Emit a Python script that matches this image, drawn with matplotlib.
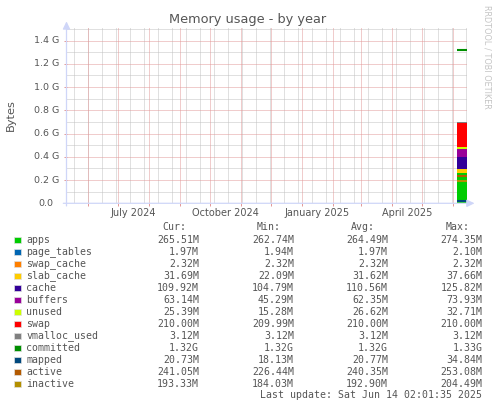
import matplotlib
matplotlib.use("Agg")
import matplotlib.pyplot as plt
import matplotlib.dates as mdates
import matplotlib.transforms as mtransforms
from matplotlib.patches import Rectangle
from datetime import datetime, timedelta

# ---------------- data ----------------
area_names = ["apps", "page_tables", "swap_cache", "slab_cache", "cache",
              "buffers", "unused", "swap", "vmalloc_used"]
area_mb = [265.51, 1.97, 2.32, 31.69, 109.92, 63.14, 25.39, 210.00, 3.12]
area_colors = ["#00CC00", "#0066B3", "#FF8000", "#FFCC00", "#330099",
               "#990099", "#CCFF00", "#FF0000", "#808080"]

line_names = ["committed", "mapped", "active", "inactive"]
line_mb = [1351.68, 20.73, 241.05, 193.33]
line_colors = ["#008F00", "#00487D", "#B35A00", "#B38F00"]

cur_txt = ["265.51M", "1.97M", "2.32M", "31.69M", "109.92M", "63.14M", "25.39M",
           "210.00M", "3.12M", "1.32G", "20.73M", "241.05M", "193.33M"]
min_txt = ["262.74M", "1.94M", "2.32M", "22.09M", "104.79M", "45.29M", "15.28M",
           "209.99M", "3.12M", "1.32G", "18.13M", "226.44M", "184.03M"]
avg_txt = ["264.49M", "1.97M", "2.32M", "31.62M", "110.56M", "62.35M", "26.62M",
           "210.00M", "3.12M", "1.32G", "20.77M", "240.35M", "192.90M"]
max_txt = ["274.35M", "2.10M", "2.32M", "37.66M", "125.82M", "73.93M", "32.71M",
           "210.00M", "3.12M", "1.33G", "34.84M", "253.08M", "204.49M"]

y_ticks = [0.0, 0.2, 0.4, 0.6, 0.8, 1.0, 1.2, 1.4]
y_tick_labels = ["0.0", "0.2 G", "0.4 G", "0.6 G", "0.8 G", "1.0 G", "1.2 G", "1.4 G"]
x_label_dates = [datetime(2024, 7, 16), datetime(2024, 10, 16),
                 datetime(2025, 1, 16), datetime(2025, 4, 16)]
x_labels = ["July 2024", "October 2024", "January 2025", "April 2025"]

end_time = datetime(2025, 6, 14, 2, 1, 35)
data_start = datetime(2025, 6, 4, 7, 0, 0)
span_days = 400
title = "Memory usage - by year"
last_update = "Last update: Sat Jun 14 02:01:35 2025"

# ---------------- layout helpers ----------------
W, H = 497, 408
def fx(x):
    return x / W
def fy(y):
    return 1 - y / H

FONT = "#555555"
MGRID = "#e39a9a"
GRID = "#c2c2c2"
AXIS = "#CFD6F8"

fig = plt.figure(figsize=(W / 100, H / 100), dpi=100)
fig.patch.set_facecolor("white")

left_px, right_px, top_px, bot_px = 66.5, 466.5, 26.7, 203.3
ax = fig.add_axes([fx(left_px), fy(bot_px), (right_px - left_px) / W, (bot_px - top_px) / H])
ax.set_facecolor("white")
for s in ax.spines.values():
    s.set_visible(False)

start_time = end_time - timedelta(days=span_days)
x0, x1 = mdates.date2num(start_time), mdates.date2num(end_time)
ax.set_xlim(x0, x1)
ax.set_ylim(0, 1.52)

# grid
dot = (0, (1, 1))
minor_v = []
d = datetime(2024, 5, 18)
while d < end_time:
    minor_v.append(mdates.date2num(d))
    d += timedelta(days=14)
major_v = []
for yy, mm in [(2024, m) for m in range(6, 13)] + [(2025, m) for m in range(1, 7)]:
    major_v.append(mdates.date2num(datetime(yy, mm, 1)))
minor_h = [0.1, 0.3, 0.5, 0.7, 0.9, 1.1, 1.3, 1.5]
major_h = y_ticks[1:]
for coll in [
    ax.vlines(minor_v, 0, 1.52, colors=GRID, linestyles=dot, linewidth=0.72, zorder=0.5),
    ax.hlines(minor_h, x0, x1, colors=GRID, linestyles=dot, linewidth=0.72, zorder=0.5),
    ax.vlines(major_v, 0, 1.52, colors=MGRID, linestyles=dot, linewidth=0.72, zorder=0.6),
    ax.hlines(major_h, x0, x1, colors=MGRID, linestyles=dot, linewidth=0.72, zorder=0.6),
]:
    coll.set_snap(True)

# data
t = mdates.date2num([data_start, end_time])
vals = [[v / 1024.0, v / 1024.0] for v in area_mb]
ax.stackplot(t, vals, colors=area_colors, linewidth=0, zorder=2)
for v, c in zip(line_mb, line_colors):
    ax.plot(t, [v / 1024.0, v / 1024.0], color=c, lw=1.5, solid_capstyle="butt", zorder=3)

# ticks
ax.set_xticks(major_v)
ax.tick_params(axis="x", which="major", length=2.0, width=0.72, color=MGRID,
               labelbottom=False, direction="out")
ax.set_xticks(mdates.date2num(x_label_dates), minor=True)
ax.set_xticklabels(x_labels, minor=True)
ax.tick_params(axis="x", which="minor", length=0, pad=3.2, labelsize=7,
               labelcolor=FONT)

ax.set_yticks(y_ticks[1:])
ax.tick_params(axis="y", which="major", length=2.2, width=0.72, color=MGRID,
               labelleft=False, direction="out")
ytrans = mtransforms.blended_transform_factory(ax.transAxes, ax.transData)
for v, lab in zip(y_ticks, y_tick_labels):
    right_edge = 59.5 if v > 0 else 53.5
    ax.text((right_edge - left_px) / (right_px - left_px), v, lab, transform=ytrans,
            ha="right", va="center", fontsize=6.8, color=FONT, clip_on=False)

# axes with arrows
ax.annotate("", xy=(1.02, 0), xytext=(-0.008, 0), xycoords="axes fraction",
            arrowprops=dict(arrowstyle="-|>,head_length=0.45,head_width=0.22",
                            color=AXIS, lw=0.9, shrinkA=0, shrinkB=0,
                            mutation_scale=10), zorder=4, annotation_clip=False)
ax.annotate("", xy=(0, 1.03), xytext=(0, -0.015), xycoords="axes fraction",
            arrowprops=dict(arrowstyle="-|>,head_length=0.45,head_width=0.22",
                            color=AXIS, lw=0.9, shrinkA=0, shrinkB=0,
                            mutation_scale=10), zorder=4, annotation_clip=False)

# texts
fig.text(fx(248), fy(19.5), title, ha="center", va="center", fontsize=9.3, color=FONT)
fig.text(fx(10.7), fy(115), "Bytes", ha="center", va="center", rotation=90,
         fontsize=8.2, color=FONT)
fig.text(fx(486.7), fy(57), "RRDTOOL / TOBI OETIKER", ha="center", va="center",
         rotation=270, fontsize=5.9, color="#c4c4c4")

# legend
mono = "DejaVu Sans Mono"
lfs = 7.1
hdr_y = 227.5
for txt, xr in zip(["Cur:", "Min:", "Avg:", "Max:"], [186, 281, 375.3, 470]):
    fig.text(fx(xr), fy(hdr_y), txt, ha="right", va="center", fontsize=lfs,
             family=mono, color=FONT)
legend_names = area_names + line_names
legend_colors = area_colors + line_colors
for i, (nm, col) in enumerate(zip(legend_names, legend_colors)):
    yc = 240 + 12 * i
    fig.add_artist(Rectangle((fx(14), fy(yc + 3.3)), 6.8 / W, 6.6 / H,
                             transform=fig.transFigure, facecolor=col,
                             edgecolor="#e0e0e0", linewidth=0.5))
    fig.text(fx(26.3), fy(yc), nm, ha="left", va="center", fontsize=lfs,
             family=mono, color=FONT)
    for txt, xr in zip([cur_txt[i], min_txt[i], avg_txt[i], max_txt[i]],
                       [199, 294, 388, 482.7]):
        fig.text(fx(xr), fy(yc), txt, ha="right", va="center", fontsize=lfs,
                 family=mono, color=FONT)
fig.text(fx(482.5), fy(395.5), last_update, ha="right", va="center", fontsize=lfs,
         family=mono, color=FONT)

fig.savefig("out.png", dpi=100, facecolor="white")
